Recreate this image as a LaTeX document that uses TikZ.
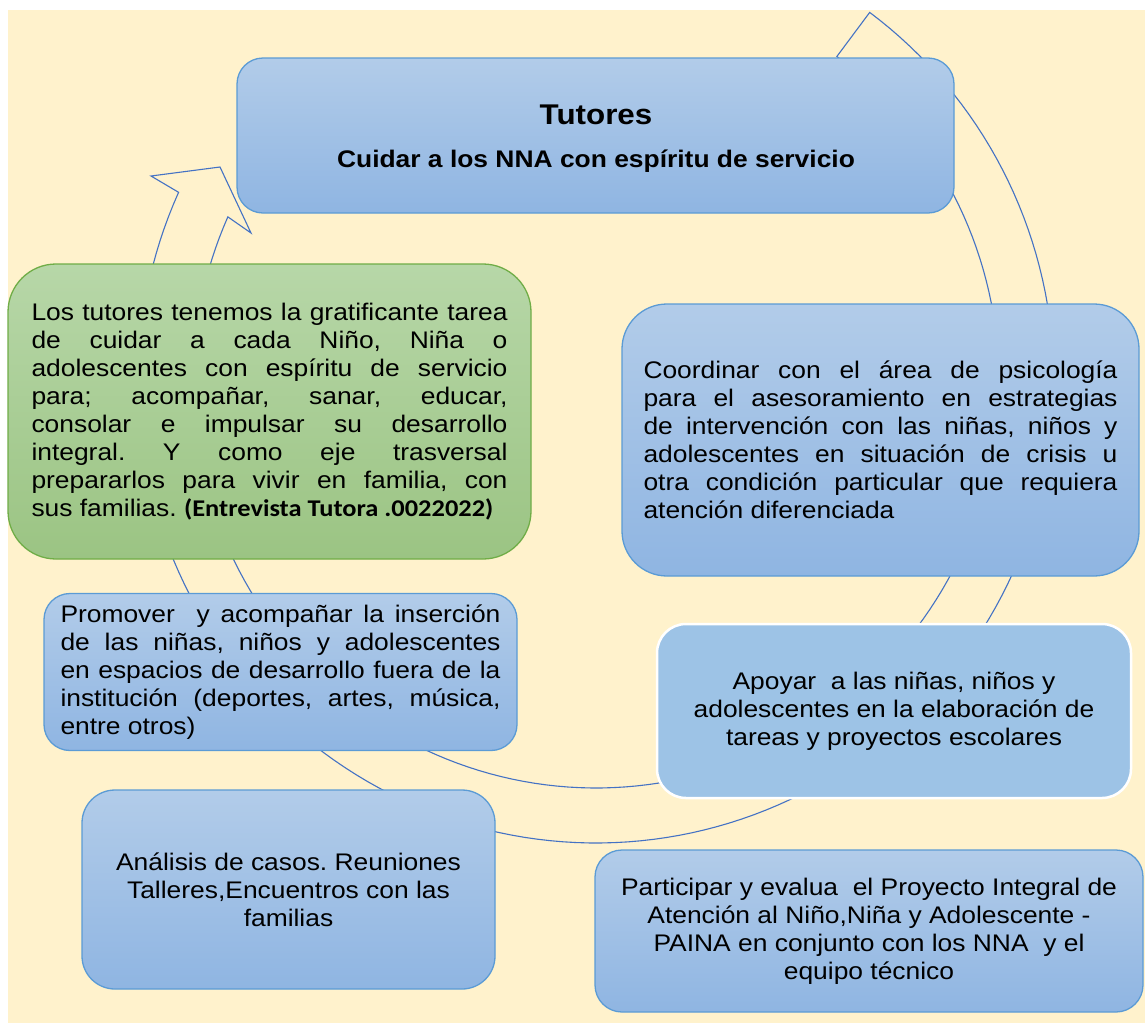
\documentclass[tikz,border=0pt]{standalone}
\usepackage{fontspec}
\setmainfont{Liberation Sans}[FakeStretch=1.1]
\newfontfamily\calibfont{Carlito}[FakeStretch=1.1]
\frenchspacing
\definecolor{bgcream}{RGB}{255,242,204}
\definecolor{bluetop}{RGB}{178,204,233}
\definecolor{bluebot}{RGB}{143,181,226}
\definecolor{blueline}{RGB}{91,155,213}
\definecolor{greentop}{RGB}{183,215,168}
\definecolor{greenbot}{RGB}{155,196,131}
\definecolor{greenline}{RGB}{112,173,71}
\definecolor{apoyfill}{RGB}{157,195,230}
\definecolor{ringcol}{RGB}{68,114,196}
\newcommand{\jline}[2]{\makebox[#1pt][s]{#2}}
\newcommand{\lline}[2]{\makebox[#1pt][l]{#2}}
\tikzset{
  bluebox/.style={draw=blueline, line width=1.3pt, top color=bluetop, bottom color=bluebot,
    rounded corners=#1, inner sep=0pt, align=center, text=black,
    font=\fontsize{24}{27.9}\selectfont},
  greenbox/.style={draw=greenline, line width=1.3pt, top color=greentop, bottom color=greenbot,
    rounded corners=#1, inner sep=0pt, align=center, text=black,
    font=\fontsize{24}{27.9}\selectfont},
  solidbox/.style={draw=white, line width=2.5pt, fill=apoyfill,
    rounded corners=#1, inner sep=0pt, align=center, text=black,
    font=\fontsize{24}{27.9}\selectfont},
  titletext/.style={inner sep=0pt, align=center, text=black,
    font=\bfseries\fontsize{24}{43}\selectfont},
  ring/.style={draw=ringcol, line width=1.1pt, line join=miter}
}
\begin{document}
\begin{tikzpicture}[x=1pt,y=-1pt]
\useasboundingbox (0,0) rectangle (1145,1023);
\fill[white] (0,0) rectangle (1145,1023);
\fill[bgcream] (8,10) rectangle (1145,1023);

% circular arrow band behind the boxes
\draw[ring] plot[domain=-53.3:204.3, samples=160, variable=\t] ({596+458*cos(\t)},{382+461*sin(\t)})
  -- (151,176) -- (220,167) -- (251,233)
  -- plot[domain=204:-53.3, samples=160, variable=\t] ({596+403*cos(\t)},{382+406*sin(\t)})
  -- cycle;

% boxes
\node[bluebox=26pt, minimum width=717pt, minimum height=155pt] (tut) at (595.5,135.5) {};
\node[titletext] (tuttext) at (596,139)
  {{\fontsize{28.5}{43}\selectfont Tutores}\\Cuidar a los NNA con espíritu de servicio};

\node[greenbox=48pt, minimum width=523pt, minimum height=295pt] (grn) at (269.5,411.5)
  {\jline{476}{Los tutores tenemos la gratificante tarea}\\
   \jline{476}{de cuidar a cada Niño, Niña o}\\
   \jline{476}{adolescentes con espíritu de servicio}\\
   \jline{476}{para; acompañar, sanar, educar,}\\
   \jline{476}{consolar e impulsar su desarrollo}\\
   \jline{476}{integral. Y como eje trasversal}\\
   \jline{476}{prepararlos para vivir en familia, con}\\
   \lline{476}{sus familias. {\calibfont\bfseries (Entrevista Tutora .0022022)}}};

\node[bluebox=45pt, minimum width=517pt, minimum height=272pt] (coord) at (880.5,440)
  {\jline{474}{Coordinar con el área de psicología}\\
   \jline{474}{para el asesoramiento en estrategias}\\
   \jline{474}{de intervención con las niñas, niños y}\\
   \jline{474}{adolescentes en situación de crisis u}\\
   \jline{474}{otra condición particular que requiera}\\
   \lline{474}{atención diferenciada}};

\node[bluebox=26pt, minimum width=473pt, minimum height=157pt] (prom) at (280.5,672)
  {\jline{440}{Promover\ \ y acompañar la inserción}\\
   \jline{440}{de las niñas, niños y adolescentes}\\
   \jline{440}{en espacios de desarrollo fuera de la}\\
   \jline{440}{institución (deportes, artes, música,}\\
   \lline{440}{entre otros)}};

\node[solidbox=29pt, minimum width=474pt, minimum height=174pt] (apoy) at (894,711)
  {Apoyar\ \ a las niñas, niños y\\adolescentes en la elaboración de\\tareas y proyectos escolares};

\node[bluebox=33pt, minimum width=413pt, minimum height=199pt] (anal) at (288.5,889.5)
  {Análisis de casos. Reuniones\\Talleres,Encuentros con las\\familias};

\node[bluebox=27pt, minimum width=548pt, minimum height=162pt] (paina) at (869,931)
  {Participar y evalua\ \ el Proyecto Integral de\\Atención al Niño,Niña y Adolescente -\\PAINA en conjunto con los NNA\ \ y el\\equipo técnico};
\end{tikzpicture}
\end{document}
